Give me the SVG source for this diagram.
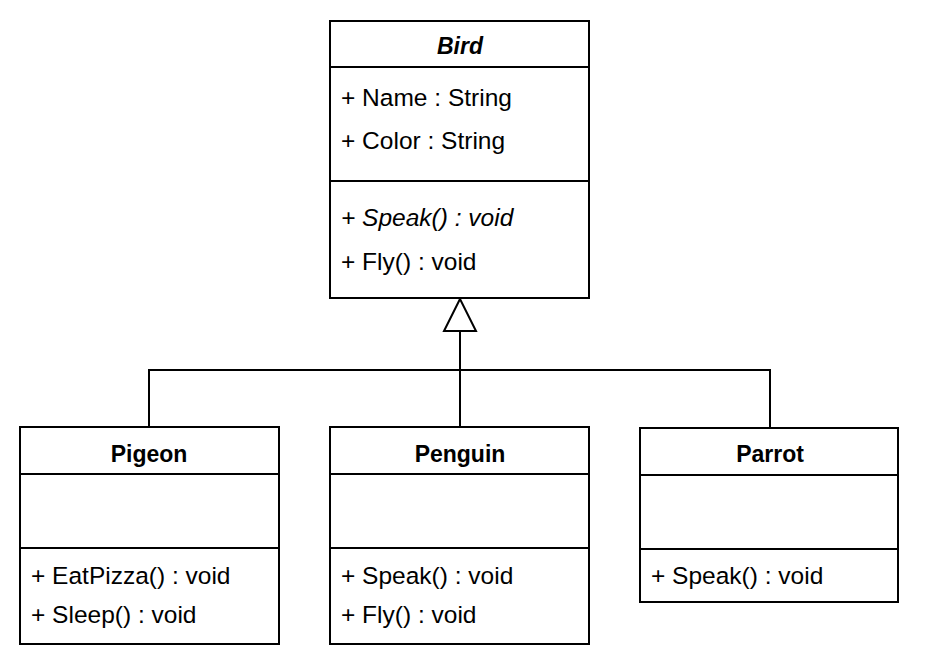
<svg xmlns="http://www.w3.org/2000/svg" width="925" height="671" viewBox="0 0 925 671">
<style>
.box{fill:#fff;stroke:#000;stroke-width:2}
.sep{stroke:#000;stroke-width:2}
.t{font-family:"Liberation Sans",Arial,sans-serif;font-size:24.5px;fill:#000}
.title{font-weight:bold;text-anchor:middle;font-size:23px}
.i{font-style:italic}
.conn{fill:none;stroke:#000;stroke-width:2}
</style>
<rect width="925" height="671" fill="#fff"/>
<g id="connectors">
<polyline class="conn" points="149,427 149,370 770,370 770,428"/>
<line class="conn" x1="460" y1="331" x2="460" y2="427"/>
<polygon points="460,299 444,331 476,331" fill="#fff" stroke="#000" stroke-width="2"/>
</g>
<g id="Bird">
<rect class="box" x="330" y="21" width="259" height="277"/>
<line class="sep" x1="330" y1="67" x2="589" y2="67"/>
<line class="sep" x1="330" y1="181" x2="589" y2="181"/>
<text class="t title i" x="460" y="54">Bird</text>
<text class="t" x="341" y="106">+ Name : String</text>
<text class="t" x="341" y="149">+ Color : String</text>
<text class="t i" x="341" y="226">+ Speak() : void</text>
<text class="t" x="341" y="270">+ Fly() : void</text>
</g>
<g id="Pigeon">
<rect class="box" x="20" y="427" width="259" height="217"/>
<line class="sep" x1="20" y1="474" x2="279" y2="474"/>
<line class="sep" x1="20" y1="548" x2="279" y2="548"/>
<text class="t title" x="149" y="462">Pigeon</text>
<text class="t" x="31" y="584">+ EatPizza() : void</text>
<text class="t" x="31" y="623">+ Sleep() : void</text>
</g>
<g id="Penguin">
<rect class="box" x="330" y="427" width="259" height="217"/>
<line class="sep" x1="330" y1="474" x2="589" y2="474"/>
<line class="sep" x1="330" y1="548" x2="589" y2="548"/>
<text class="t title" x="460" y="462">Penguin</text>
<text class="t" x="341" y="584">+ Speak() : void</text>
<text class="t" x="341" y="623">+ Fly() : void</text>
</g>
<g id="Parrot">
<rect class="box" x="640" y="428" width="258" height="174"/>
<line class="sep" x1="640" y1="475" x2="898" y2="475"/>
<line class="sep" x1="640" y1="549" x2="898" y2="549"/>
<text class="t title" x="770" y="462">Parrot</text>
<text class="t" x="651" y="584">+ Speak() : void</text>
</g>
</svg>
